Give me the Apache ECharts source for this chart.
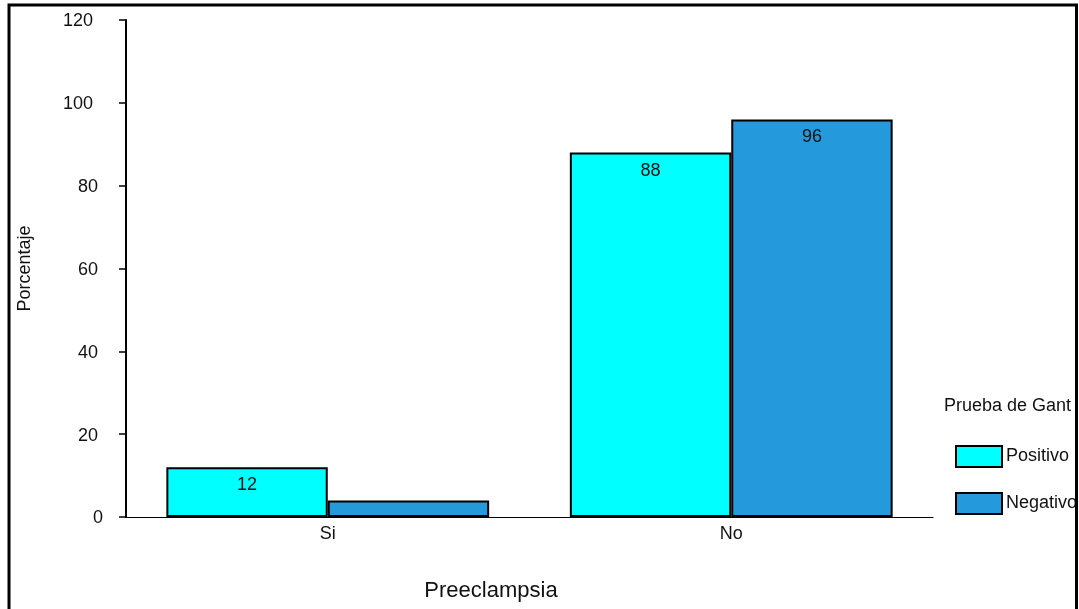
<!DOCTYPE html>
<html>
<head>
<meta charset="utf-8">
<script src="https://cdn.jsdelivr.net/npm/echarts@6/dist/echarts.min.js"></script>
<style>
html,body{margin:0;padding:0;background:#fff;}
#chart{width:1079px;height:609px;}
</style>
</head>
<body>
<div id="chart"></div>
<script>
const categories = ['Si', 'No'];
const seriesNames = ['Positivo', 'Negativo'];
const positivo = [12, 88];
const negativo = [4, 96];
const yTicks = [0, 20, 40, 60, 80, 100, 120];
const xTitle = 'Preeclampsia';
const yTitle = 'Porcentaje';
const legendTitle = 'Prueba de Gant';

const FONT = 'Liberation Sans, Arial, sans-serif';
const colors = ['#00FFFF', '#2499DB'];

const chart = echarts.init(document.getElementById('chart'), null, {renderer: 'canvas'});

function labelFmt(p) { return p.value >= 10 ? String(p.value) : ''; }
function yFmt(v) {
  const s = String(v);
  return '{d' + s.length + '|' + s + '}';
}
const yLabelBase = {color: '#111', fontSize: 18, fontFamily: FONT};

const option = {
  animation: false,
  backgroundColor: '#ffffff',
  grid: {left: 126, right: 146, top: 20, bottom: 92, containLabel: false, outerBoundsMode: 'none'},
  xAxis: {
    type: 'category',
    data: categories,
    axisLine: {lineStyle: {color: '#000', width: 1.2}},
    axisTick: {alignWithLabel: true, length: 6, lineStyle: {color: '#000', width: 2}},
    axisLabel: {color: '#111', fontSize: 18, fontFamily: FONT, margin: 8}
  },
  yAxis: {
    type: 'value',
    min: yTicks[0],
    max: yTicks[yTicks.length - 1],
    interval: yTicks[1] - yTicks[0],
    name: yTitle,
    nameLocation: 'middle',
    nameGap: 92,
    nameRotate: 90,
    nameTextStyle: {color: '#111', fontSize: 18, fontFamily: FONT},
    axisLine: {show: true, lineStyle: {color: '#000', width: 2}},
    axisTick: {show: true, length: 7, lineStyle: {color: '#000', width: 1.5}},
    axisLabel: {
      margin: 23,
      formatter: yFmt,
      rich: {
        d1: Object.assign({padding: [3, 0, 0, 0]}, yLabelBase),
        d2: Object.assign({padding: [3, 5, 0, 0]}, yLabelBase),
        d3: Object.assign({padding: [3, 10, 0, 0]}, yLabelBase)
      }
    },
    splitLine: {show: false}
  },
  legend: {
    orient: 'vertical',
    left: 955,
    top: 445,
    padding: 0,
    itemWidth: 46,
    itemHeight: 21,
    itemGap: 24,
    icon: 'rect',
    textStyle: {color: '#111', fontSize: 18, fontFamily: FONT, padding: [8, 0, 0, -1]},
    data: seriesNames
  },
  series: [
    {
      name: seriesNames[0],
      type: 'bar',
      data: positivo,
      barGap: '0%',
      barCategoryGap: '20%',
      itemStyle: {color: colors[0], borderColor: '#000', borderWidth: 2},
      label: {show: true, position: 'insideTop', distance: 9, color: '#111', fontSize: 18, fontFamily: FONT, formatter: labelFmt}
    },
    {
      name: seriesNames[1],
      type: 'bar',
      data: negativo,
      barGap: '0%',
      barCategoryGap: '20%',
      itemStyle: {color: colors[1], borderColor: '#000', borderWidth: 2},
      label: {show: true, position: 'insideTop', distance: 9, color: '#111', fontSize: 18, fontFamily: FONT, formatter: labelFmt}
    }
  ],
  graphic: [
    {
      type: 'text', x: 944, y: 406, z: 10,
      style: {text: legendTitle, fill: '#111', font: '18px ' + FONT, verticalAlign: 'middle'}
    },
    {
      type: 'text', x: 491, y: 591, z: 10,
      style: {text: xTitle, fill: '#111', font: '22px ' + FONT, align: 'center', verticalAlign: 'middle'}
    },
    {
      type: 'polyline', z: 100, silent: true,
      shape: {points: [[9, 612], [9, 5], [1076.5, 5], [1076.5, 612]]},
      style: {stroke: '#000', lineWidth: 3, fill: null}
    },
    {
      type: 'rect', z: 99, silent: true,
      shape: {x: 1078, y: 0, width: 10, height: 609},
      style: {fill: '#fff'}
    }
  ]
};
chart.setOption(option);
</script>
</body>
</html>
